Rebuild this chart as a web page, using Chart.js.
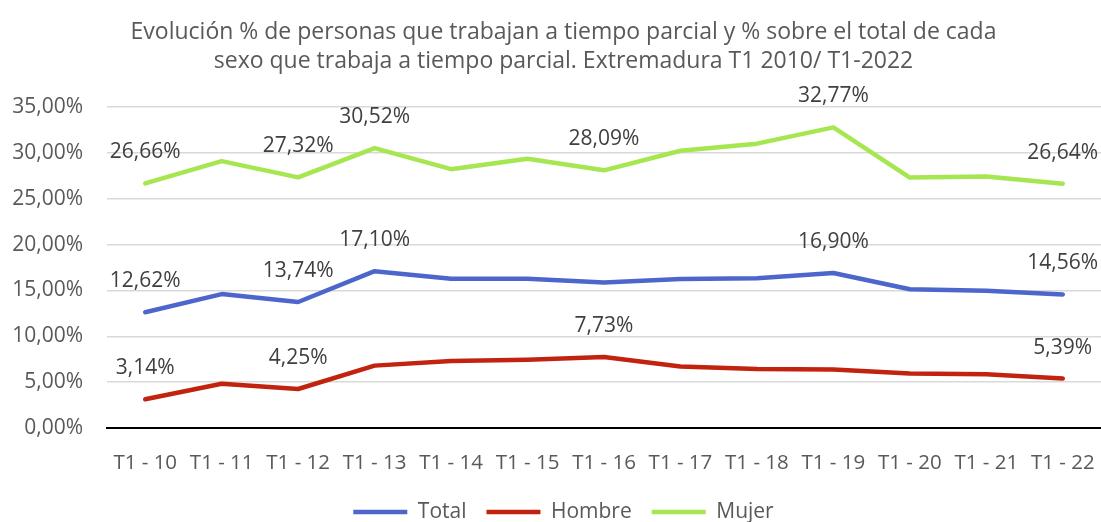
<!DOCTYPE html>
<html>
<head>
<meta charset="utf-8">
<script src="https://cdn.jsdelivr.net/npm/chart.js@4.4.0/dist/chart.umd.min.js"></script>
<style>
  html, body { margin: 0; padding: 0; background: #fff; }
  #wrap { width: 1101px; height: 522px; }
</style>
</head>
<body>
<div id="wrap"><canvas id="chart" width="1101" height="522"></canvas></div>
<script>
const categories = ['T1 - 10', 'T1 - 11', 'T1 - 12', 'T1 - 13', 'T1 - 14', 'T1 - 15', 'T1 - 16',
  'T1 - 17', 'T1 - 18', 'T1 - 19', 'T1 - 20', 'T1 - 21', 'T1 - 22'];

const totalValues = [12.62, 14.6, 13.74, 17.10, 16.27, 16.28, 15.85, 16.25, 16.33, 16.90, 15.12, 14.95, 14.56];
const hombreValues = [3.14, 4.82, 4.25, 6.8, 7.3, 7.45, 7.73, 6.7, 6.42, 6.38, 5.94, 5.87, 5.39];
const mujerValues = [26.66, 29.1, 27.32, 30.52, 28.22, 29.36, 28.09, 30.22, 31.0, 32.77, 27.3, 27.43, 26.64];

// which points carry a value label
const totalLabelIdx = [0, 2, 3, 9, 12];
const hombreLabelIdx = [0, 2, 6, 12];
const mujerLabelIdx = [0, 2, 3, 6, 9, 12];

const yTicks = [0, 5, 10, 15, 20, 25, 30, 35];

const FONT = "'Open Sans', 'Noto Sans', sans-serif";

function pct(v) {
  return v.toFixed(2).replace('.', ',') + '%';
}

// draws the value labels above the chosen points
const valueLabels = {
  id: 'valueLabels',
  afterDatasetsDraw(chart) {
    const ctx = chart.ctx;
    ctx.save();
    ctx.font = '21px ' + FONT;
    ctx.fillStyle = '#404040';
    ctx.textAlign = 'center';
    ctx.textBaseline = 'middle';
    chart.data.datasets.forEach((ds, i) => {
      const meta = chart.getDatasetMeta(i);
      ds.labelIdx.forEach((j) => {
        const pt = meta.data[j];
        ctx.fillText(pct(ds.data[j]), pt.x, pt.y - 31);
      });
    });
    ctx.restore();
  }
};

// title and legend are centred a bit right of the canvas middle
const shiftBlocks = {
  id: 'shiftBlocks',
  afterLayout(chart) {
    chart.titleBlock.left = 26;
    chart.legend.left = 26;
  }
};

const chart = new Chart(document.getElementById('chart'), {
  type: 'line',
  data: {
    labels: categories,
    datasets: [
      {
        label: 'Total',
        data: totalValues,
        labelIdx: totalLabelIdx,
        borderColor: '#4D66CC',
        backgroundColor: '#4D66CC',
        borderWidth: 4.5,
        borderCapStyle: 'round',
      },
      {
        label: 'Hombre',
        data: hombreValues,
        labelIdx: hombreLabelIdx,
        borderColor: '#C2230F',
        backgroundColor: '#C2230F',
        borderWidth: 4.5,
        borderCapStyle: 'round',
      },
      {
        label: 'Mujer',
        data: mujerValues,
        labelIdx: mujerLabelIdx,
        borderColor: '#A6E650',
        backgroundColor: '#A6E650',
        borderWidth: 4.5,
        borderCapStyle: 'round',
      },
    ],
  },
  options: {
    responsive: false,
    animation: false,
    devicePixelRatio: 1,
    layout: { padding: 0 },
    elements: {
      line: { tension: 0, borderJoinStyle: 'round' },
      point: { radius: 0, hoverRadius: 0 },
    },
    plugins: {
      title: {
        display: true,
        text: ['Evolución % de personas que trabajan a tiempo parcial y % sobre el total de cada',
          'sexo que trabaja a tiempo parcial. Extremadura T1 2010/ T1-2022'],
        color: '#595959',
        font: { family: FONT, size: 23, weight: 'normal', lineHeight: 1.26 },
        padding: { top: 18, bottom: 31 },
      },
      legend: {
        position: 'bottom',
        maxHeight: 40.5,
        labels: {
          usePointStyle: true,
          pointStyle: 'line',
          pointStyleWidth: 54,
          padding: 20,
          color: '#595959',
          font: { family: FONT, size: 21 },
        },
      },
      tooltip: { enabled: false },
    },
    scales: {
      x: {
        offset: true,
        grid: { display: false, drawTicks: false, offset: true },
        border: { display: true, color: '#000000', width: 2 },
        ticks: {
          color: '#595959',
          padding: 23,
          maxRotation: 0,
          autoSkip: false,
          font: { family: FONT, size: 20.5 },
        },
        afterFit(scale) {
          scale.height = 53.5;
          scale.paddingLeft = 0;
          scale.paddingRight = 0;
        },
      },
      y: {
        min: 0,
        max: 35,
        afterBuildTicks(scale) { scale.ticks = yTicks.map(v => ({ value: v })); },
        grid: { color: '#D9D9D9', lineWidth: 1.5, drawTicks: false },
        border: { display: false },
        ticks: {
          color: '#595959',
          padding: 24,
          font: { family: FONT, size: 21 },
          callback: (v) => pct(v),
        },
        afterFit(scale) { scale.width = 107; },
      },
    },
  },
  plugins: [valueLabels, shiftBlocks],
});
</script>
</body>
</html>
